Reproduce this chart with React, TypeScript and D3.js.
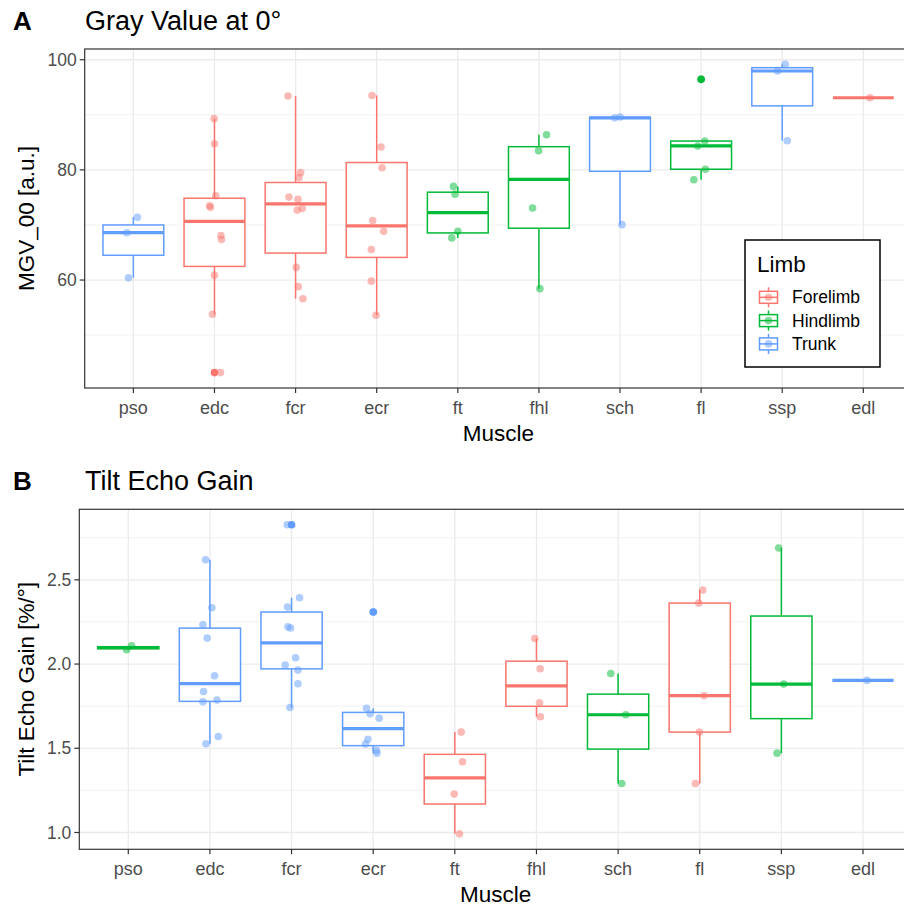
import * as d3 from "d3";
import React from "react";

// muscles on the x axis, same order in both panels
const muscles = ["pso", "edc", "fcr", "ecr", "ft", "fhl", "sch", "fl", "ssp", "edl"];
const limbs = ["Forelimb", "Hindlimb", "Trunk"];
const limbColors = ["#F8766D", "#00BA38", "#619CFF"];

// panel A: gray value at 0 deg
const gvLimb = ["Trunk", "Forelimb", "Forelimb", "Forelimb", "Hindlimb", "Hindlimb", "Trunk", "Hindlimb", "Trunk", "Forelimb"];
const gvValues = [
  [71.4, 68.6, 60.4],
  [89.3, 84.75, 75.3, 73.5, 73.2, 68.1, 67.35, 60.85, 53.8, 43.2],
  [93.4, 79.5, 78.6, 75.06, 74.64, 73.0, 72.7, 62.3, 58.8, 56.6],
  [93.5, 84.15, 80.4, 70.8, 68.86, 65.55, 59.8, 53.6],
  [77.0, 75.6, 68.86, 67.65],
  [86.38, 83.49, 73.07, 58.44],
  [89.45, 89.6, 70.06],
  [96.44, 85.24, 84.35, 80.12, 78.2],
  [99.15, 97.95, 85.3],
  [93.1],
];
// horizontal jitter, in category units
const gvJitter = [
  [0.05, -0.08, -0.06],
  [-0.004, 0, 0.016, -0.06, -0.05, 0.08, 0.086, 0, -0.025, 0.074],
  [-0.094, 0.062, 0.041, -0.082, 0.029, 0.082, 0.02, 0.008, 0.033, 0.09],
  [-0.057, 0.053, 0.066, -0.049, 0.086, -0.066, -0.066, -0.008],
  [-0.053, -0.033, 0, -0.074],
  [0.094, -0.004, -0.078, 0.012],
  [-0.066, 0.0, 0.025],
  [0.0, 0.045, -0.041, 0.053, -0.09],
  [0.037, -0.057, 0.062],
  [0.082],
];
const gvTicks = [60, 80, 100];
const gvMinor = [50, 70, 90];

// panel B: tilt echo gain
const tegLimb = ["Hindlimb", "Trunk", "Trunk", "Trunk", "Forelimb", "Forelimb", "Hindlimb", "Forelimb", "Hindlimb", "Trunk"];
const tegValues = [
  [2.085, 2.109],
  [2.619, 2.334, 2.233, 2.154, 1.931, 1.837, 1.786, 1.776, 1.57, 1.527],
  [2.827, 2.394, 2.338, 2.221, 2.214, 2.037, 1.994, 1.964, 1.883, 1.742],
  [2.309, 1.737, 1.705, 1.679, 1.554, 1.525, 1.487, 1.471],
  [1.596, 1.42, 1.228, 0.992],
  [2.152, 1.972, 1.77, 1.687],
  [1.944, 1.699, 1.291],
  [2.439, 2.362, 1.812, 1.596, 1.291],
  [2.689, 1.881, 1.471],
  [1.903],
];
const tegJitter = [
  [-0.02, 0.04],
  [-0.053, 0.024, -0.086, -0.033, 0.057, -0.078, 0.086, -0.086, 0.102, -0.049],
  [-0.053, 0.098, -0.049, -0.045, -0.012, 0.049, -0.078, 0.078, 0.078, -0.02],
  [0.004, -0.082, -0.037, 0.073, -0.065, -0.094, 0.041, 0.045],
  [0.078, 0.094, -0.008, 0.057],
  [-0.02, 0.045, 0.037, 0.049],
  [-0.09, 0.094, 0.045],
  [0.037, -0.012, 0.053, -0.004, -0.053],
  [-0.033, 0.029, -0.053],
  [0.049],
];
const tegTicks = [1.0, 1.5, 2.0, 2.5];
const tegMinor = [1.25, 1.75, 2.25, 2.75];

const FONT = "'Liberation Sans', Arial, sans-serif";
const color = d3.scaleOrdinal<string, string>().domain(limbs).range(limbColors);
const R = 3.8;
const LW = 1.5;

function boxStats(vals: number[]) {
  const s = [...vals].sort(d3.ascending);
  const q1 = d3.quantileSorted(s, 0.25)!;
  const med = d3.quantileSorted(s, 0.5)!;
  const q3 = d3.quantileSorted(s, 0.75)!;
  const iqr = q3 - q1;
  const lo = q1 - 1.5 * iqr;
  const hi = q3 + 1.5 * iqr;
  const inside = s.filter((v) => v >= lo && v <= hi);
  return { q1, med, q3, wlo: d3.min(inside)!, whi: d3.max(inside)!, out: s.filter((v) => v < lo || v > hi) };
}

type PanelProps = {
  tag: string;
  title: string;
  yTitle: string;
  values: number[][];
  jitter: number[][];
  limbOf: string[];
  ticks: number[];
  minor: number[];
  fmt: (v: number) => string;
  left: number;
  top: number;
  bottom: number;
  legend?: boolean;
};

const Panel = (p: PanelProps) => {
  const right = 912;
  const x = d3.scalePoint<string>().domain(muscles).range([p.left, right]).padding(0.6);
  const step = x.step();
  const ext = d3.extent(p.values.flat()) as [number, number];
  const pad = (ext[1] - ext[0]) * 0.05;
  const y = d3.scaleLinear().domain([ext[0] - pad, ext[1] + pad]).range([p.bottom, p.top]);
  const bw = step * 0.75;
  const midX = (p.left + right) / 2;
  const midY = (p.top + p.bottom) / 2;

  return (
    <g>
      <text x={13} y={p.top - 19} fontSize={26} fontWeight="bold" fontFamily={FONT}>{p.tag}</text>
      <text x={85} y={p.top - 19} fontSize={27} fontFamily={FONT}>{p.title}</text>

      <clipPath id={"clip" + p.tag}>
        <rect x={p.left} y={p.top} width={right - p.left} height={p.bottom - p.top} />
      </clipPath>
      <g clipPath={`url(#clip${p.tag})`}>
        <rect x={p.left} y={p.top} width={right - p.left} height={p.bottom - p.top} fill="white" />
        {p.minor.map((t) => (
          <line key={"m" + t} x1={p.left} x2={right} y1={y(t)} y2={y(t)} stroke="#EBEBEB" strokeWidth={0.7} />
        ))}
        {p.ticks.map((t) => (
          <line key={"g" + t} x1={p.left} x2={right} y1={y(t)} y2={y(t)} stroke="#EBEBEB" strokeWidth={1.3} />
        ))}
        {muscles.map((m) => (
          <line key={"v" + m} x1={x(m)} x2={x(m)} y1={p.top} y2={p.bottom} stroke="#EBEBEB" strokeWidth={1.3} />
        ))}

        {p.values.map((vals, i) => {
          const b = boxStats(vals);
          const cx = x(muscles[i])!;
          const c = color(p.limbOf[i]);
          return (
            <g key={"b" + i}>
              <line x1={cx} x2={cx} y1={y(b.whi)} y2={y(b.q3)} stroke={c} strokeWidth={LW} />
              <line x1={cx} x2={cx} y1={y(b.q1)} y2={y(b.wlo)} stroke={c} strokeWidth={LW} />
              <rect x={cx - bw / 2} y={y(b.q3)} width={bw} height={Math.max(0, y(b.q1) - y(b.q3))}
                fill="white" stroke={c} strokeWidth={LW} />
              <line x1={cx - bw / 2} x2={cx + bw / 2} y1={y(b.med)} y2={y(b.med)} stroke={c} strokeWidth={3.2} />
              {b.out.map((v, k) => (
                <circle key={k} cx={cx} cy={y(v)} r={R} fill={c} />
              ))}
            </g>
          );
        })}

        {p.values.map((vals, i) =>
          vals.map((v, k) => (
            <circle key={`p${i}-${k}`} cx={x(muscles[i])! + p.jitter[i][k] * step} cy={y(v)} r={R}
              fill={color(p.limbOf[i])} fillOpacity={0.5} />
          ))
        )}
      </g>

      <rect x={p.left} y={p.top} width={right - p.left} height={p.bottom - p.top} fill="none" stroke="#333333" strokeWidth={1.2} />

      {p.ticks.map((t) => (
        <g key={"yt" + t}>
          <line x1={p.left - 5} x2={p.left} y1={y(t)} y2={y(t)} stroke="#333333" strokeWidth={1.2} />
          <text x={p.left - 8} y={y(t)} dy="0.35em" textAnchor="end" fontSize={17.5} fill="#4D4D4D" fontFamily={FONT}>
            {p.fmt(t)}
          </text>
        </g>
      ))}
      {muscles.map((m) => (
        <g key={"xt" + m}>
          <line x1={x(m)} x2={x(m)} y1={p.bottom} y2={p.bottom + 5} stroke="#333333" strokeWidth={1.2} />
          <text x={x(m)} y={p.bottom + 26} textAnchor="middle" fontSize={18} fill="#4D4D4D" fontFamily={FONT}>{m}</text>
        </g>
      ))}

      <text x={midX} y={p.bottom + 53} textAnchor="middle" fontSize={22.5} fontFamily={FONT}>Muscle</text>
      <text transform={`translate(34,${midY}) rotate(-90)`} textAnchor="middle" fontSize={22.5} fontFamily={FONT}>
        {p.yTitle}
      </text>

      {p.legend && (
        <g>
          <rect x={745} y={240} width={135} height={127} fill="white" stroke="black" strokeWidth={1.5} />
          <text x={757} y={272} fontSize={22.5} fontFamily={FONT}>Limb</text>
          {limbs.map((l, i) => {
            const cy = 297.3 + i * 23.3;
            const kx = 768.5;
            const c = color(l);
            return (
              <g key={l}>
                <line x1={kx} x2={kx} y1={cy - 10} y2={cy + 10} stroke={c} strokeWidth={LW} />
                <rect x={kx - 9} y={cy - 6} width={18} height={12} fill="white" stroke={c} strokeWidth={LW} />
                <line x1={kx - 9} x2={kx + 9} y1={cy} y2={cy} stroke={c} strokeWidth={LW} />
                <circle cx={kx} cy={cy} r={R} fill={c} fillOpacity={0.5} />
                <text x={792} y={cy} dy="0.35em" fontSize={17.5} fontFamily={FONT}>{l}</text>
              </g>
            );
          })}
        </g>
      )}
    </g>
  );
};

export default function App() {
  return (
    <svg width={904} height={908} style={{ position: "absolute", left: 0, top: 0, background: "white" }}>
      <rect width={904} height={908} fill="white" />
      <Panel tag="A" title="Gray Value at 0°" yTitle="MGV_00 [a.u.]" values={gvValues} jitter={gvJitter}
        limbOf={gvLimb} ticks={gvTicks} minor={gvMinor} fmt={(v) => String(v)}
        left={84.7} top={49} bottom={388} legend />
      <Panel tag="B" title="Tilt Echo Gain" yTitle="Tilt Echo Gain [%/°]" values={tegValues} jitter={tegJitter}
        limbOf={tegLimb} ticks={tegTicks} minor={tegMinor} fmt={(v) => v.toFixed(1)}
        left={79.3} top={509.3} bottom={849.3} />
    </svg>
  );
}
